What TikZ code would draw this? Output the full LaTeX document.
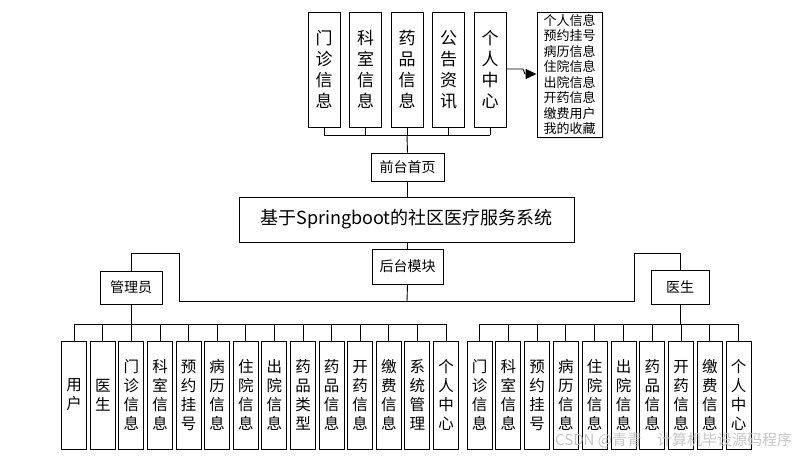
\documentclass[tikz,border=0pt]{standalone}
\usepackage{fontspec}
\setmainfont{Noto Sans CJK SC}
\usetikzlibrary{arrows.meta,shadows}
\begin{document}
\begin{tikzpicture}[x=1pt,y=-1pt,
  box/.style={draw=black,line width=0.9pt,fill=white,inner sep=0pt,align=center},
  topbox/.style={box,minimum width=32pt,minimum height=115pt,font=\fontsize{17}{21}\selectfont},
  kidbox/.style={box,minimum width=25pt,minimum height=108pt,font=\fontsize{15.5}{19}\selectfont},
  labbox/.style={box,font=\fontsize{14}{16}\selectfont},
  wire/.style={draw=black,line width=0.9pt}]
\useasboundingbox (0,0) rectangle (805,456);
% top row
\foreach \t [count=\i from 0] in {门\\诊\\信\\息,科\\室\\信\\息,药\\品\\信\\息,公\\告\\资\\讯,个\\人\\中\\心}{
  \node[topbox] (p\i) at ({324+41.5*\i},69.5) {\t};
}
\node[box,minimum width=65pt,minimum height=125pt,font=\fontsize{13}{15.5}\selectfont,
  drop shadow={opacity=0.35,fill=blue!25,shadow xshift=2pt,shadow yshift=-2pt}] (lst) at (569.5,74.5)
  {个人信息\\预约挂号\\病历信息\\住院信息\\出院信息\\开药信息\\缴费用户\\我的收藏};
\draw[wire,-{Triangle[length=11pt,width=10pt]}] (p4.east |- 0,69) -- (523,69) -- (525,74) -- (lst.west |- 0,74);
\node[labbox,minimum width=73pt,minimum height=28pt] (qt) at (407.5,167) {前台首页};
\coordinate (tbus) at (407,135);
\foreach \i in {0,...,4}{\draw[wire] (p\i.south) -- (p\i.south |- tbus);}
\draw[wire] (p0.south |- tbus) -- (p4.south |- tbus);
\draw[wire] (tbus) -- (qt.north);
% title
\node[box,minimum width=335pt,minimum height=45pt,font=\fontsize{18}{20}\selectfont] (ttl) at (406.5,219.5) {基于Springboot的社区医疗服务系统};
\draw[wire] (qt.south) -- (qt.south |- ttl.north);
\node[labbox,minimum width=71pt,minimum height=35pt] (ht) at (407.5,266.5) {后台模块};
\draw[wire] (ht.north |- ttl.south) -- (ht.north);
% admin & doctor
\node[labbox,minimum width=62pt,minimum height=33pt] (adm) at (131,287.5) {管理员};
\node[labbox,minimum width=58pt,minimum height=34pt] (doc) at (680,287) {医生};
\coordinate (hb) at (407,301);
\draw[wire] (ht.south) -- (hb);
\draw[wire] (adm.north) -- (131,253) -- (179,253) -- (179,301) -- (634,301) -- (634,253) -- (680,253) -- (doc.north);
% admin children
\coordinate (abus) at (131,324);
\foreach \t [count=\i from 0] in {用\\户,医\\生,门\\诊\\信\\息,科\\室\\信\\息,预\\约\\挂\\号,病\\历\\信\\息,住\\院\\信\\息,出\\院\\信\\息,药\\品\\类\\型,药\\品\\信\\息,开\\药\\信\\息,缴\\费\\信\\息,系\\统\\管\\理,个\\人\\中\\心}{
  \node[kidbox] (a\i) at ({74.2+28.6*\i},395) {\t};
  \draw[wire] (a\i.north) -- (a\i.north |- abus);
}
\draw[wire] (a0.north |- abus) -- (a13.north |- abus);
\draw[wire] (adm.south) -- (abus);
% doctor children
\coordinate (dbus) at (680,324);
\foreach \t [count=\i from 0] in {门\\诊\\信\\息,科\\室\\信\\息,预\\约\\挂\\号,病\\历\\信\\息,住\\院\\信\\息,出\\院\\信\\息,药\\品\\信\\息,开\\药\\信\\息,缴\\费\\信\\息,个\\人\\中\\心}{
  \node[kidbox] (d\i) at ({479.5+28.8*\i},395) {\t};
  \draw[wire] (d\i.north) -- (d\i.north |- dbus);
}
\draw[wire] (d0.north |- dbus) -- (d9.north |- dbus);
\draw[wire] (doc.south) -- (dbus);
% watermark
\node[text=gray!45,font=\fontsize{15}{17}\selectfont,anchor=west,inner sep=0pt] (wm) at (555,440) {CSDN @青青\quad 计算机毕设源码程序};
\end{tikzpicture}
\end{document}
